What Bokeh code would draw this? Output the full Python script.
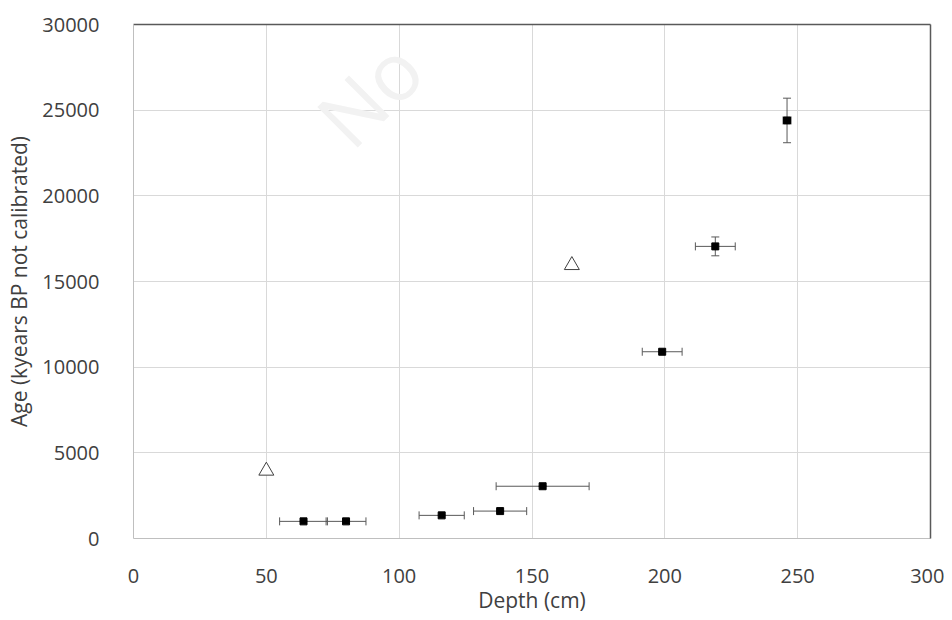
from bokeh.plotting import figure
from bokeh.models import ColumnDataSource, Whisker, LinearAxis, FixedTicker, Range1d, Label
from bokeh.embed import file_html
from bokeh.resources import INLINE

# Dated samples (squares with error bars)
depth = [64, 80, 116, 138, 154, 199, 219, 246]
depth_err = [9, 7.5, 8.5, 10, 17.5, 7.5, 7.5, 1.5]
age = [1000, 1000, 1350, 1600, 3050, 10900, 17050, 24400]
age_err = [0, 0, 0, 0, 0, 0, 550, 1300]

# Other samples (open triangles)
tri_depth = [50, 165]
tri_age = [3950, 15950]

x_ticks = [0, 50, 100, 150, 200, 250, 300]
y_ticks = [0, 5000, 10000, 15000, 20000, 25000, 30000]

FONT = "Open Sans"

p = figure(width=944, height=620, output_backend="svg", toolbar_location=None,
           x_range=Range1d(0, 300), y_range=Range1d(0, 30000),
           min_border_left=133, min_border_top=24, min_border_right=14, min_border_bottom=82)
p.outline_line_color = None
p.background_fill_color = "white"
p.border_fill_color = "white"

for ax in (p.xaxis[0], p.yaxis[0]):
    ax.axis_line_color = "#bfbfbf"
    ax.major_tick_line_color = None
    ax.minor_tick_line_color = None
    ax.major_label_text_font = FONT
    ax.major_label_text_font_size = "20px"
    ax.major_label_text_color = "#404040"
    ax.axis_label_text_font = FONT
    ax.axis_label_text_font_size = "21px"
    ax.axis_label_text_font_style = "normal"
    ax.axis_label_text_color = "#404040"

p.xaxis.ticker = FixedTicker(ticks=x_ticks)
p.yaxis.ticker = FixedTicker(ticks=y_ticks)
p.xaxis.axis_label = "Depth (cm)"
p.yaxis.axis_label = "Age (kyears BP not calibrated)"
p.xaxis.major_label_standoff = 24
p.xaxis.axis_label_standoff = 0
p.yaxis.major_label_standoff = 28
p.yaxis.axis_label_standoff = 6

p.grid.grid_line_color = "#d9d9d9"
p.grid.grid_line_width = 1
p.xgrid.ticker = FixedTicker(ticks=x_ticks)
p.ygrid.ticker = FixedTicker(ticks=y_ticks)

# top and right border lines
for side in ("above", "right"):
    a = LinearAxis(ticker=FixedTicker(ticks=[]), major_label_text_font_size="0px",
                   axis_line_color="#595959", axis_line_width=1.5,
                   major_tick_line_color=None, minor_tick_line_color=None)
    p.add_layout(a, side)

# faint watermark
p.add_layout(Label(x=74, y=23800, text="No",
                   angle=0.785, text_font=FONT, text_font_size="80px",
                   text_color="#f2f2f2", text_baseline="alphabetic", text_align="left",
                   level="underlay"))

src = ColumnDataSource(dict(
    x=depth, y=age,
    xl=[d - e for d, e in zip(depth, depth_err)],
    xu=[d + e for d, e in zip(depth, depth_err)],
    yl=[a - e for a, e in zip(age, age_err)],
    yu=[a + e for a, e in zip(age, age_err)],
))

wx = Whisker(source=src, base="y", lower="xl", upper="xu", dimension="width",
             line_color="#595959", line_width=1)
wx.upper_head.size = 8
wx.lower_head.size = 8
wx.upper_head.line_color = "#595959"
wx.lower_head.line_color = "#595959"
p.add_layout(wx)

wy = Whisker(source=src, base="x", lower="yl", upper="yu", dimension="height",
             line_color="#595959", line_width=1)
wy.upper_head.size = 8
wy.lower_head.size = 8
wy.upper_head.line_color = "#595959"
wy.lower_head.line_color = "#595959"
p.add_layout(wy)

p.scatter("x", "y", source=src, marker="square", size=7, fill_color="black", line_color="black")

p.scatter(tri_depth, tri_age, marker="triangle", size=15, fill_color="white",
          line_color="#404040", line_width=1)

open("out.html", "w").write(file_html(p, INLINE))
